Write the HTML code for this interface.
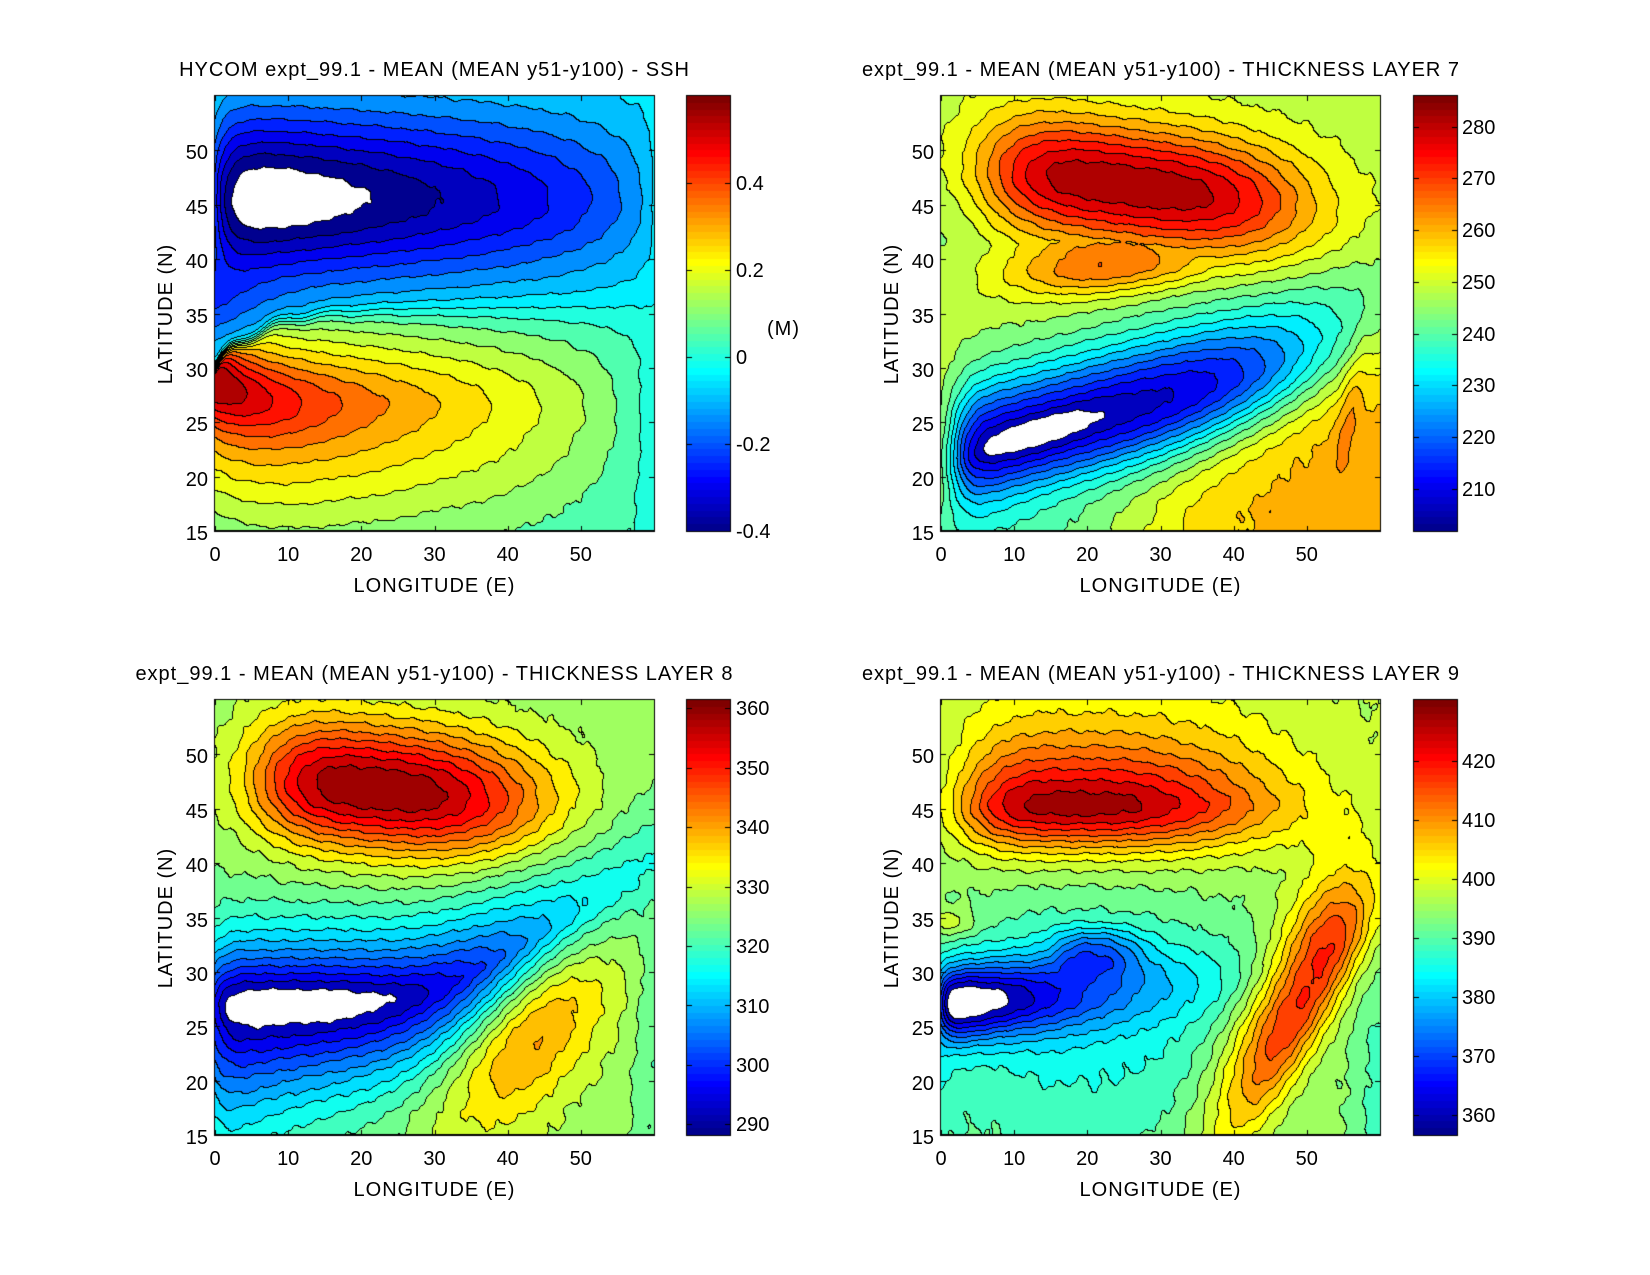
<!DOCTYPE html>
<html><head><meta charset="utf-8">
<style>
html,body{margin:0;padding:0;background:#fff;}
#wrap{position:relative;width:1650px;height:1275px;overflow:hidden;background:#fff;}
canvas{position:absolute;left:0;top:0;}
.t{position:absolute;font-family:"Liberation Sans",Arial,sans-serif;font-size:20px;line-height:20px;color:#000;white-space:nowrap;}
.c{transform:translateX(-50%);}
.ls{letter-spacing:1px;}
.yl{transform:translate(-50%,-50%) rotate(-90deg);letter-spacing:1px;}
</style></head><body><div id="wrap">
<canvas id="c" width="1650" height="1275"></canvas>

<div class="t c ls" style="left:434.5px;top:60px">HYCOM expt_99.1 - MEAN (MEAN y51-y100) - SSH</div>
<div class="t c ls" style="left:1161px;top:60px">expt_99.1 - MEAN (MEAN y51-y100) - THICKNESS LAYER 7</div>
<div class="t c ls" style="left:434.5px;top:664px">expt_99.1 - MEAN (MEAN y51-y100) - THICKNESS LAYER 8</div>
<div class="t c ls" style="left:1161px;top:664px">expt_99.1 - MEAN (MEAN y51-y100) - THICKNESS LAYER 9</div>

<div class="t c ls" style="left:434.5px;top:576px">LONGITUDE (E)</div>
<div class="t c ls" style="left:1160.5px;top:576px">LONGITUDE (E)</div>
<div class="t c ls" style="left:434.5px;top:1180px">LONGITUDE (E)</div>
<div class="t c ls" style="left:1160.5px;top:1180px">LONGITUDE (E)</div>

<div class="t yl" style="left:166px;top:313.5px">LATITUDE (N)</div>
<div class="t yl" style="left:892px;top:313.5px">LATITUDE (N)</div>
<div class="t yl" style="left:166px;top:917.5px">LATITUDE (N)</div>
<div class="t yl" style="left:892px;top:917.5px">LATITUDE (N)</div>

<div class="t c" style="left:215px;top:545px">0</div>
<div class="t c" style="left:288.2px;top:545px">10</div>
<div class="t c" style="left:361.3px;top:545px">20</div>
<div class="t c" style="left:434.5px;top:545px">30</div>
<div class="t c" style="left:507.7px;top:545px">40</div>
<div class="t c" style="left:580.8px;top:545px">50</div>
<div class="t c" style="left:941px;top:545px">0</div>
<div class="t c" style="left:1014.2px;top:545px">10</div>
<div class="t c" style="left:1087.3px;top:545px">20</div>
<div class="t c" style="left:1160.5px;top:545px">30</div>
<div class="t c" style="left:1233.7px;top:545px">40</div>
<div class="t c" style="left:1306.8px;top:545px">50</div>
<div class="t c" style="left:215px;top:1149px">0</div>
<div class="t c" style="left:288.2px;top:1149px">10</div>
<div class="t c" style="left:361.3px;top:1149px">20</div>
<div class="t c" style="left:434.5px;top:1149px">30</div>
<div class="t c" style="left:507.7px;top:1149px">40</div>
<div class="t c" style="left:580.8px;top:1149px">50</div>
<div class="t c" style="left:941px;top:1149px">0</div>
<div class="t c" style="left:1014.2px;top:1149px">10</div>
<div class="t c" style="left:1087.3px;top:1149px">20</div>
<div class="t c" style="left:1160.5px;top:1149px">30</div>
<div class="t c" style="left:1233.7px;top:1149px">40</div>
<div class="t c" style="left:1306.8px;top:1149px">50</div>

<div class="t" style="right:1442px;top:524px">15</div>
<div class="t" style="right:1442px;top:469.6px">20</div>
<div class="t" style="right:1442px;top:415.3px">25</div>
<div class="t" style="right:1442px;top:360.9px">30</div>
<div class="t" style="right:1442px;top:306.5px">35</div>
<div class="t" style="right:1442px;top:252.1px">40</div>
<div class="t" style="right:1442px;top:197.8px">45</div>
<div class="t" style="right:1442px;top:143.4px">50</div>
<div class="t" style="right:716px;top:524px">15</div>
<div class="t" style="right:716px;top:469.6px">20</div>
<div class="t" style="right:716px;top:415.3px">25</div>
<div class="t" style="right:716px;top:360.9px">30</div>
<div class="t" style="right:716px;top:306.5px">35</div>
<div class="t" style="right:716px;top:252.1px">40</div>
<div class="t" style="right:716px;top:197.8px">45</div>
<div class="t" style="right:716px;top:143.4px">50</div>
<div class="t" style="right:1442px;top:1128px">15</div>
<div class="t" style="right:1442px;top:1073.6px">20</div>
<div class="t" style="right:1442px;top:1019.3px">25</div>
<div class="t" style="right:1442px;top:964.9px">30</div>
<div class="t" style="right:1442px;top:910.5px">35</div>
<div class="t" style="right:1442px;top:856.1px">40</div>
<div class="t" style="right:1442px;top:801.8px">45</div>
<div class="t" style="right:1442px;top:747.4px">50</div>
<div class="t" style="right:716px;top:1128px">15</div>
<div class="t" style="right:716px;top:1073.6px">20</div>
<div class="t" style="right:716px;top:1019.3px">25</div>
<div class="t" style="right:716px;top:964.9px">30</div>
<div class="t" style="right:716px;top:910.5px">35</div>
<div class="t" style="right:716px;top:856.1px">40</div>
<div class="t" style="right:716px;top:801.8px">45</div>
<div class="t" style="right:716px;top:747.4px">50</div>

<div class="t" style="left:736px;top:522px">-0.4</div>
<div class="t" style="left:736px;top:435px">-0.2</div>
<div class="t" style="left:736px;top:348px">0</div>
<div class="t" style="left:736px;top:261px">0.2</div>
<div class="t" style="left:736px;top:174px">0.4</div>
<div class="t ls" style="left:767px;top:319px">(M)</div>
<div class="t" style="left:1462px;top:479.6px">210</div>
<div class="t" style="left:1462px;top:427.9px">220</div>
<div class="t" style="left:1462px;top:376.2px">230</div>
<div class="t" style="left:1462px;top:324.5px">240</div>
<div class="t" style="left:1462px;top:272.8px">250</div>
<div class="t" style="left:1462px;top:221.1px">260</div>
<div class="t" style="left:1462px;top:169.4px">270</div>
<div class="t" style="left:1462px;top:117.7px">280</div>
<div class="t" style="left:736px;top:1115.3px">290</div>
<div class="t" style="left:736px;top:1055.9px">300</div>
<div class="t" style="left:736px;top:996.5px">310</div>
<div class="t" style="left:736px;top:937px">320</div>
<div class="t" style="left:736px;top:877.6px">330</div>
<div class="t" style="left:736px;top:818.2px">340</div>
<div class="t" style="left:736px;top:758.8px">350</div>
<div class="t" style="left:736px;top:699.4px">360</div>
<div class="t" style="left:1462px;top:1105.9px">360</div>
<div class="t" style="left:1462px;top:1046.9px">370</div>
<div class="t" style="left:1462px;top:987.9px">380</div>
<div class="t" style="left:1462px;top:928.9px">390</div>
<div class="t" style="left:1462px;top:869.8px">400</div>
<div class="t" style="left:1462px;top:810.8px">410</div>
<div class="t" style="left:1462px;top:751.8px">420</div>
</div>
<script>
(function(){
const cv=document.getElementById('c'),ctx=cv.getContext('2d');
ctx.fillStyle='#fff';ctx.fillRect(0,0,1650,1275);
const E=Math.exp,S=Math.sqrt,PW=Math.pow,AB=Math.abs,MX=Math.max,MN=Math.min;
const JET=(function(){const u=[];for(let k=1;k<=16;k++)u.push(k/16);for(let k=0;k<15;k++)u.push(1);for(let k=16;k>=1;k--)u.push(k/16);
 const J=[];for(let i=0;i<64;i++)J.push([0,0,0]);
 for(let p=0;p<47;p++){const g=9+p,r=g+16,b=g-16;
  if(g>=1&&g<=64)J[g-1][1]=u[p];if(r>=1&&r<=64)J[r-1][0]=u[p];if(b>=1&&b<=64)J[b-1][2]=u[p];}
 return J.map(c=>c.map(x=>Math.round(x*255)));})();
function ci(v,a,b){let i=Math.floor((v-a)/(b-a)*64);return MX(0,MN(63,i));}
function sig(z){return 1/(1+E(-z));}
function pw(a,q){return PW(AB(a),q);}
function blob(X,Y,o){let u=X-o.x,w=Y-o.y;
 if(o.a){const r=o.a*Math.PI/180,c=Math.cos(r),s=Math.sin(r);const uu=u*c+w*s;w=-u*s+w*c;u=uu;}
 const e=(u<0?pw(u/o.aw,o.qw||2):pw(u/o.ae,o.qe||2))+(w>0?pw(w/o.bn,o.qn||2):pw(w/o.bs,o.qs||2));
 return o.A*E(-e);}
function nz(X,Y,s){return s*(0.55*Math.sin(1.9*X+0.7*Y+1.3)+0.4*Math.sin(0.8*X-2.3*Y+0.4)+0.22*Math.sin(3.7*X+3.1*Y)+0.1*Math.sin(5.3*X-4.7*Y+2));}

function f1(X,Y){
 const ampN=0.061*S(MX(60-X,0)+0.1)*(1-0.6*E(-X/2));
 const dn=Y-45.5;const Pn=E(-pw(dn/(dn>0?7.8:7.2),2));
 const vn=-0.02-ampN*Pn-0.16*E(-X/6)*E(-pw((Y-36)/4,2));
 const ys=26.5+2.5*E(-X/5);
 const ampS=-0.035+0.0575*S(MX(60-X,0)+0.3);
 const dy=Y-ys;const Q=dy>0?E(-pw(dy/7,2)):E(-pw(dy/11,2));
 const vs=0.04+(ampS-0.04)*Q+0.22*E(-X/13)*E(-pw(dy/3.5,2));
 const yf=35.3-5.5*E(-X/6)+0.6*Math.sin(X*0.9)*E(-X/12);
 const wf=0.25+0.015*X;const s=sig((Y-yf)/wf);
 return s*vn+(1-s)*vs+nz(X,Y,0.004);}

function f2(X,Y){
 const amb=250+12*sig((X-0.6*(Y-15)-30)/5)*sig((34-Y)/2)-6*sig((25-X)/5)*E(-pw((Y-15)/3,2))-3*E(-pw((X-2)/5,2))*E(-pw((Y-42)/4,2));
 const b1=blob(X,Y,{x:26,y:46.7,a:-5,aw:20.4,qw:4,ae:24.2,qe:3,bn:5.6,bs:5.6,A:35});
 const b2=blob(X,Y,{x:22,y:39.2,a:3,aw:13,ae:18,bn:4.5,bs:2.5,A:19});
 let v=amb+MX(b1,b2);
 const yc=23.7+0.18*(X-12),w=Y-yc;
 const uw=MN(0,X-12),ue=MX(0,(X-12)-0.9*w);
 const sh=E(-pw(uw/10.5,6)-pw(ue/41.4,4)-(w>0?pw(w/6.2,2):pw(w/5.5,2)));
 v=v-sh*(v-208);
 v-=blob(X,Y,{x:12.5,y:23.9,a:12,aw:8,ae:9,bn:1.6,bs:1.6,A:7});
 v+=blob(X,Y,{x:56,y:26,a:75,aw:7,ae:7,bn:1.5,bs:1.5,A:6});
 return v+nz(X,Y,0.5);}

function f3(X,Y){
 let v=328.5;
 v+=blob(X,Y,{x:22.8,y:46.65,a:-4,aw:17.5,qw:3.5,ae:22.9,qe:2.5,bn:6,bs:5.7,A:33.5});
 v+=blob(X,Y,{x:43,y:26,a:35,aw:14,ae:13,bn:6.5,bs:7,A:19});
 const yc=27+1.68*Math.log(1+E((X-29)/4)),w=Y-yc,u=X-12;
 const sS=6+5*E(-X/15);
 const sh=E(-pw(MN(0,u)/14,8)-pw(MX(0,u)/40,2)-(w>0?pw(w/6,1.5):pw(w/sS,1.5)));
 v=v-sh*(v-288);
 v-=5*sig((X-57.5)/0.8)*sig((32-Y)/3);
 return v+nz(X,Y,0.6);}

function f4(X,Y){
 let v=397+1.5*sig((Y-40)/2)*sig((X-40)/5)+1.5*sig((Y-52)/1)*sig((45-X)/3);
 v+=blob(X,Y,{x:19.5,y:45.4,aw:16.9,qw:4,ae:26,qe:2.4,bn:6.6,qn:1.5,bs:4.25,A:32});
 v-=blob(X,Y,{x:18,y:29,aw:18,ae:26,bn:8,bs:13,A:10});
 v-=blob(X,Y,{x:20.5,y:31.8,aw:5,ae:7,qw:2.5,qe:2.5,bn:2.2,bs:2.2,qn:2.5,qs:2.5,A:12});
 v-=blob(X,Y,{x:3.5,y:27.2,a:3,aw:4,qw:4,ae:18.7,qe:1.2,bn:3.5,bs:3.5,A:36});
 v+=blob(X,Y,{x:51,y:29.5,a:50,aw:19,ae:11,qw:2.5,qe:2.5,bn:5.5,bs:4,A:27});
 v+=blob(X,Y,{x:1.5,y:34.5,aw:3,ae:3,bn:1.2,bs:1.2,A:7});
 v-=6*sig((X-57)/1)*sig((28-Y)/2);
 v-=5*E(-X/2)*sig((26-Y)/2)*sig((Y-16)/1.5);
 v-=3*sig((25-Y)/3)*sig((40-X)/4);
 return v+nz(X,Y,0.6);}

function panel(x0,y0,w,h,f,lv,cmin,cmax){
 const K=new Int16Array(w*h);
 for(let j=0;j<h;j++){const Y=55-(j+0.5)/h*40;
  for(let i=0;i<w;i++){const X=(i+0.5)/w*60;const v=f(X,Y);let k=0;while(k<lv.length&&v>=lv[k])k++;K[j*w+i]=k;}}
 const im=ctx.createImageData(w,h),d=im.data;
 const cols=lv.map(l=>JET[ci(l,cmin,cmax)]);
 for(let j=0;j<h;j++)for(let i=0;i<w;i++){const p=j*w+i,k=K[p];let c;
  const edge=(i<w-1&&K[p+1]!==k)||(j<h-1&&K[p+w]!==k);
  if(edge)c=[0,0,0];else if(k===0)c=[255,255,255];else c=cols[k-1];
  d[4*p]=c[0];d[4*p+1]=c[1];d[4*p+2]=c[2];d[4*p+3]=255;}
 ctx.putImageData(im,x0,y0);
 ctx.fillStyle='#000';
 ctx.fillRect(x0-1,y0-1,w+2,1);ctx.fillRect(x0-1,y0+h-1,w+2,2);
 ctx.fillRect(x0-1,y0-1,1,h+2);ctx.fillRect(x0+w,y0-1,1,h+2);
 for(let X=0;X<=50;X+=10){const px=Math.round(x0+X/60*w);ctx.fillRect(px,y0+h-5,1,5);ctx.fillRect(px,y0,1,5);}
 for(let Y=15;Y<=50;Y+=5){const py=Math.round(y0+(55-Y)/40*h);ctx.fillRect(x0,py,5,1);ctx.fillRect(x0+w-5,py,5,1);}
}
function cbar(x0,y0,w,h,ticks,cmin,cmax){
 for(let i=0;i<64;i++){const c=JET[i];const yb=Math.round(y0+h-i*h/64),yt=Math.round(y0+h-(i+1)*h/64);
  ctx.fillStyle='rgb('+c[0]+','+c[1]+','+c[2]+')';ctx.fillRect(x0,yt,w,yb-yt);}
 ctx.fillStyle='#000';
 ctx.fillRect(x0-1,y0-1,w+2,1);ctx.fillRect(x0-1,y0+h,w+2,1);
 ctx.fillRect(x0-1,y0-1,1,h+2);ctx.fillRect(x0+w,y0-1,1,h+2);
 for(const t of ticks){const py=Math.round(y0+h-(t-cmin)/(cmax-cmin)*h);ctx.fillRect(x0,py,5,1);ctx.fillRect(x0+w-5,py,5,1);}
}
const L1=[],L2=[],L3=[],L4=[];
for(let k=0;k<20;k++){L1.push(-0.4+0.05*k);L2.push(206+4.2*k);L3.push(292+3.5*k);L4.push(360.4+3.5*k);}
panel(215,96,439,435,f1,L1,-0.4,0.6);
panel(941,96,439,435,f2,L2,201.8,285.95);
panel(215,700,439,435,f3,L3,288.2,361.4);
panel(941,700,439,435,f4,L4,356.6,430.3);
cbar(687,96,43,435,[-0.4,-0.2,0,0.2,0.4],-0.4,0.6);
cbar(1414,96,43,435,[210,220,230,240,250,260,270,280],201.8,285.95);
cbar(687,700,43,435,[290,300,310,320,330,340,350,360],288.2,361.4);
cbar(1414,700,43,435,[360,370,380,390,400,410,420],356.6,430.3);
})();
</script>
</body></html>
